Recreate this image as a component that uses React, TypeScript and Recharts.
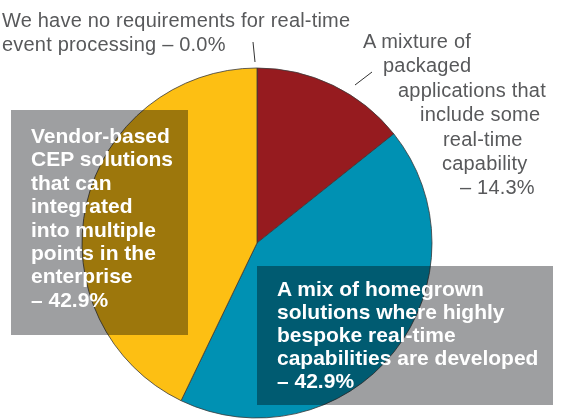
import React from "react";
import { Cell, Pie, PieChart } from "recharts";

// survey answers, clockwise from 12 o'clock
const segments = ["none", "packaged", "homegrown", "vendor"];
const shares = [0.0, 14.3, 42.9, 42.9];

const noneLines = ["We have no requirements for real-time", "event processing"];
const packagedLines = ["A mixture of", "packaged", "applications that", "include some", "real-time", "capability"];
const vendorLines = ["Vendor-based", "CEP solutions", "that can", "integrated", "into multiple", "points in the", "enterprise"];
const homegrownLines = ["A mix of homegrown", "solutions where highly", "bespoke real-time", "capabilities are developed"];

const colours = ["#fdbf13", "#961b1f", "#0091b3", "#fdbf13"];

const data = segments.map((name, i) => ({ name, value: shares[i] }));
const pct = (i: number) => `– ${shares[i].toFixed(1)}%`;

const W = 565;
const H = 419;
const grey = "#58595b";
const font = "'Liberation Sans', Arial, Helvetica, sans-serif";

// staggered left edges for the callout that hugs the red slice
const packagedX = [363, 383, 398, 420, 443, 442, 460];

export default function App() {
  const packagedAll = [...packagedLines, pct(1)];
  const vendorAll = [...vendorLines, pct(3)];
  const homegrownAll = [...homegrownLines, pct(2)];

  return (
    <div style={{ position: "absolute", left: 0, top: 0, width: W, height: H, background: "#fff", overflow: "hidden" }}>
      <div style={{ position: "absolute", left: 0, top: 0 }}>
        <PieChart width={W} height={H} margin={{ top: 0, right: 0, bottom: 0, left: 0 }}>
          <Pie
            data={data}
            dataKey="value"
            nameKey="name"
            cx={257}
            cy={243}
            innerRadius={0}
            outerRadius={175}
            startAngle={90}
            endAngle={-270}
            stroke="#3a3a3a"
            strokeWidth={0.8}
            isAnimationActive={false}
          >
            {data.map((d, i) => (
              <Cell key={d.name} fill={colours[i]} />
            ))}
          </Pie>
        </PieChart>
      </div>

      {/* grey callout boxes, multiplied over the pie */}
      <div style={{ position: "absolute", left: 11, top: 110, width: 177, height: 225, background: "#9e9fa1", mixBlendMode: "multiply" }} />
      <div style={{ position: "absolute", left: 257, top: 266, width: 296, height: 139, background: "#9e9fa1", mixBlendMode: "multiply" }} />

      <svg width={W} height={H} style={{ position: "absolute", left: 0, top: 0 }} fontFamily={font}>
        <line x1={253} y1={42} x2={255} y2={62} stroke="#333" strokeWidth={1} />
        <line x1={355} y1={85} x2={372} y2={72} stroke="#333" strokeWidth={1} />

        <g fill={grey} fontSize={20} letterSpacing={0.2}>
          <text x={2} y={27}>{noneLines[0]}</text>
          <text x={2} y={51}>{`${noneLines[1]} ${pct(0)}`}</text>
          {packagedAll.map((t, i) => (
            <text key={t} x={packagedX[i]} y={48 + i * 24.4}>{t}</text>
          ))}
        </g>

        <g fill="#fff" fontSize={21} fontWeight="bold">
          {vendorAll.map((t, i) => (
            <text key={t} x={31} y={143 + i * 23.4}>{t}</text>
          ))}
          {homegrownAll.map((t, i) => (
            <text key={t} x={277} y={296 + i * 23.1}>{t}</text>
          ))}
        </g>
      </svg>
    </div>
  );
}
